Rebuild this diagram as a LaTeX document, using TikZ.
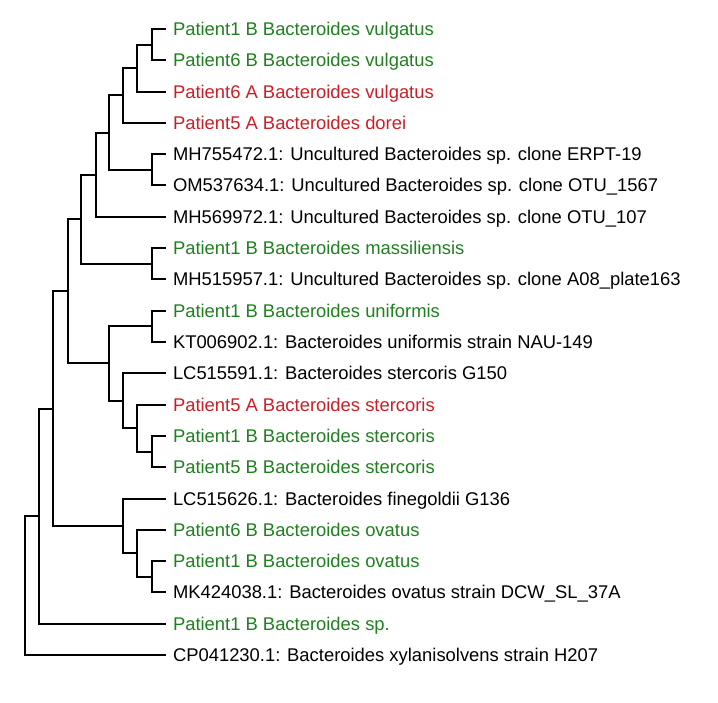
\documentclass[tikz,border=0pt]{standalone}
\usepackage{fontspec}
\setmainfont{Liberation Sans}
\usepackage{tikz}
\usepackage{color}
\definecolor{patgreen}{RGB}{30,128,30}
\definecolor{patred}{RGB}{204,30,38}

\begin{document}
\begin{tikzpicture}[x=1pt,y=-1pt,line width=2pt,line cap=rect,
  leaf/.style={anchor=west,inner xsep=7pt,inner ysep=0pt,text height=13pt,text depth=0pt,font=\fontsize{18.4}{20}\selectfont},
  leafg/.style={leaf,text=patgreen},
  leafr/.style={leaf,text=patred}]
\useasboundingbox (0,0) rectangle (718,703);
% leaves
\node [leafg] (l1) at (165,29) {Patient1 B Bacteroides vulgatus};
\node [leafg] (l2) at (165,60.3) {Patient6 B Bacteroides vulgatus};
\node [leafr] (l3) at (165,91.6) {Patient6 A Bacteroides vulgatus};
\node [leafr] (l4) at (165,122.9) {Patient5 A Bacteroides dorei};
\node [leaf] (l5) at (165,154.2) {MH755472.1: Uncultured Bacteroides sp. clone ERPT-19};
\node [leaf] (l6) at (165,185.5) {OM537634.1: Uncultured Bacteroides sp. clone OTU\_1567};
\node [leaf] (l7) at (165,216.8) {MH569972.1: Uncultured Bacteroides sp. clone OTU\_107};
\node [leafg] (l8) at (165,248.1) {Patient1 B Bacteroides massiliensis};
\node [leaf] (l9) at (165,279.4) {MH515957.1: Uncultured Bacteroides sp. clone A08\_plate163};
\node [leafg] (l10) at (165,310.7) {Patient1 B Bacteroides uniformis};
\node [leaf] (l11) at (165,342) {KT006902.1: Bacteroides uniformis strain NAU-149};
\node [leaf] (l12) at (165,373.3) {LC515591.1: Bacteroides stercoris G150};
\node [leafr] (l13) at (165,404.6) {Patient5 A Bacteroides stercoris};
\node [leafg] (l14) at (165,435.9) {Patient1 B Bacteroides stercoris};
\node [leafg] (l15) at (165,467.2) {Patient5 B Bacteroides stercoris};
\node [leaf] (l16) at (165,498.5) {LC515626.1: Bacteroides finegoldii G136};
\node [leafg] (l17) at (165,529.8) {Patient6 B Bacteroides ovatus};
\node [leafg] (l18) at (165,561.1) {Patient1 B Bacteroides ovatus};
\node [leaf] (l19) at (165,592.4) {MK424038.1: Bacteroides ovatus strain DCW\_SL\_37A};
\node [leafg] (l20) at (165,623.7) {Patient1 B Bacteroides sp.};
\node [leaf] (l21) at (165,655) {CP041230.1: Bacteroides xylanisolvens strain H207};
% inner nodes
\coordinate (n1) at (152,44.65);
\coordinate (n2) at (137,68.1);
\coordinate (n3) at (123,95.5);
\coordinate (n4) at (152,169.85);
\coordinate (n5) at (109,132.7);
\coordinate (n6) at (96,174.75);
\coordinate (n7) at (152,263.75);
\coordinate (n8) at (81,219.25);
\coordinate (n9) at (152,326.35);
\coordinate (n10) at (152,451.55);
\coordinate (n11) at (137,428.1);
\coordinate (n12) at (123,400.7);
\coordinate (n13) at (109,363.5);
\coordinate (n14) at (68,291.4);
\coordinate (n15) at (152,576.75);
\coordinate (n16) at (137,553.3);
\coordinate (n17) at (123,525.9);
\coordinate (n18) at (53,408.6);
\coordinate (n19) at (39,516.2);
\coordinate (n20) at (25,585.6);
% branches
\draw (n1) |- (l1.west);  \draw (n1) |- (l2.west);
\draw (n2) |- (n1);       \draw (n2) |- (l3.west);
\draw (n3) |- (n2);       \draw (n3) |- (l4.west);
\draw (n4) |- (l5.west);  \draw (n4) |- (l6.west);
\draw (n5) |- (n3);       \draw (n5) |- (n4);
\draw (n6) |- (n5);       \draw (n6) |- (l7.west);
\draw (n7) |- (l8.west);  \draw (n7) |- (l9.west);
\draw (n8) |- (n6);       \draw (n8) |- (n7);
\draw (n9) |- (l10.west); \draw (n9) |- (l11.west);
\draw (n10) |- (l14.west);\draw (n10) |- (l15.west);
\draw (n11) |- (l13.west);\draw (n11) |- (n10);
\draw (n12) |- (l12.west);\draw (n12) |- (n11);
\draw (n13) |- (n9);      \draw (n13) |- (n12);
\draw (n14) |- (n8);      \draw (n14) |- (n13);
\draw (n15) |- (l18.west);\draw (n15) |- (l19.west);
\draw (n16) |- (l17.west);\draw (n16) |- (n15);
\draw (n17) |- (l16.west);\draw (n17) |- (n16);
\draw (n18) |- (n14);     \draw (n18) |- (n17);
\draw (n19) |- (n18);     \draw (n19) |- (l20.west);
\draw (n20) |- (n19);     \draw (n20) |- (l21.west);
\end{tikzpicture}
\end{document}
